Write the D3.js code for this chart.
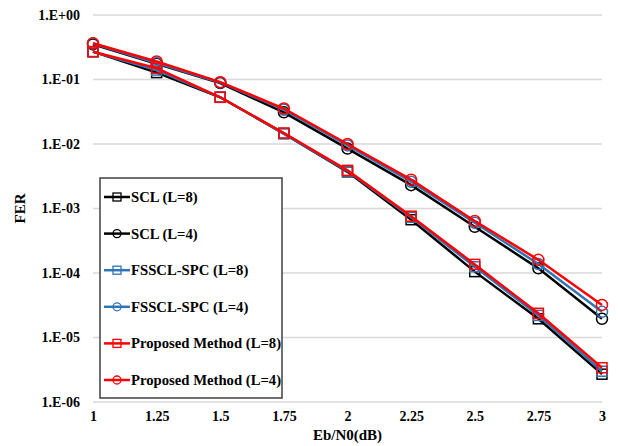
<!DOCTYPE html>
<html>
<head>
<meta charset="utf-8">
<script src="https://cdn.jsdelivr.net/npm/d3@7"></script>
<style>
  body { margin: 0; background: #fff; }
  text { font-family: "Liberation Serif", "Times New Roman", serif; font-weight: bold; }
</style>
</head>
<body>
<svg id="chart" width="618" height="446"></svg>
<script>
// x values (Eb/N0 in dB)
const ebn0 = [1, 1.25, 1.5, 1.75, 2, 2.25, 2.5, 2.75, 3];
const xTickLabels = ["1", "1.25", "1.5", "1.75", "2", "2.25", "2.5", "2.75", "3"];
const yTicks = [1, 1e-1, 1e-2, 1e-3, 1e-4, 1e-5, 1e-6];
const yTickLabels = ["1.E+00", "1.E-01", "1.E-02", "1.E-03", "1.E-04", "1.E-05", "1.E-06"];

// FER
const scl8    = [0.27, 0.128, 0.053, 0.0145, 0.0037, 6.7e-4, 1.05e-4, 1.95e-5, 2.7e-6];
const scl4    = [0.35, 0.175, 0.088, 0.031, 0.0085, 0.0023, 5.2e-4, 1.18e-4, 1.95e-5];
const fsscl8  = [0.27, 0.14, 0.053, 0.0145, 0.0038, 7.3e-4, 1.25e-4, 2.2e-5, 3.0e-6];
const fsscl4  = [0.36, 0.18, 0.09, 0.034, 0.0095, 0.0026, 6.0e-4, 1.38e-4, 2.5e-5];
const prop8   = [0.27, 0.15, 0.053, 0.0148, 0.0039, 7.6e-4, 1.36e-4, 2.37e-5, 3.4e-6];
const prop4   = [0.365, 0.19, 0.091, 0.0355, 0.0100, 0.0028, 6.4e-4, 1.6e-4, 3.2e-5];

const seriesNames = ["SCL (L=8)", "SCL (L=4)", "FSSCL-SPC (L=8)", "FSSCL-SPC (L=4)",
                     "Proposed Method (L=8)", "Proposed Method (L=4)"];
const seriesValues = [scl8, scl4, fsscl8, fsscl4, prop8, prop4];
const seriesColors = ["#000000", "#000000", "#2e75b6", "#2e75b6", "#ff0000", "#ff0000"];
const seriesMarkers = ["square", "circle", "square", "circle", "square", "circle"];

const svg = d3.select("#chart");
const plotLeft = 93, plotRight = 602, plotTop = 15, plotBottom = 402;

const x = d3.scaleLinear().domain([1, 3]).range([plotLeft, plotRight]);
const y = d3.scaleLog().domain([1e-6, 1]).range([plotBottom, plotTop]);

// gridlines
svg.append("g")
  .selectAll("line")
  .data(yTicks)
  .enter().append("line")
  .attr("x1", plotLeft).attr("x2", plotRight)
  .attr("y1", d => y(d)).attr("y2", d => y(d))
  .attr("stroke", "#d9d9d9")
  .attr("stroke-width", 1.5);

// y axis labels
const yAxis = d3.axisLeft(y).tickValues(yTicks)
  .tickFormat((d, i) => yTickLabels[i]).tickSize(0).tickPadding(13);
svg.append("g").attr("transform", `translate(${plotLeft},0)`).call(yAxis)
  .call(g => g.select(".domain").remove())
  .selectAll("text").attr("font-size", 14).attr("fill", "#000")
  .style("font-family", "'Liberation Serif', serif");

// x axis labels
const xAxis = d3.axisBottom(x).tickValues(ebn0)
  .tickFormat((d, i) => xTickLabels[i]).tickSize(0).tickPadding(9);
svg.append("g").attr("transform", `translate(0,${plotBottom})`).call(xAxis)
  .call(g => g.select(".domain").remove())
  .selectAll("text").attr("font-size", 14).attr("fill", "#000")
  .style("font-family", "'Liberation Serif', serif");

// axis titles
svg.append("text")
  .attr("x", (plotLeft + plotRight) / 2).attr("y", 440)
  .attr("text-anchor", "middle").attr("font-size", 15)
  .text("Eb/N0(dB)");
svg.append("text")
  .attr("transform", `translate(25,${(plotTop + plotBottom) / 2}) rotate(-90)`)
  .attr("text-anchor", "middle").attr("font-size", 15)
  .text("FER");

// marker drawing
function drawMarker(g, type, cx, cy, color) {
  if (type === "square") {
    g.append("rect")
      .attr("x", cx - 5).attr("y", cy - 5)
      .attr("width", 10).attr("height", 10)
      .attr("fill", "none").attr("stroke", color).attr("stroke-width", 1.5);
  } else {
    g.append("circle")
      .attr("cx", cx).attr("cy", cy).attr("r", 5.5)
      .attr("fill", "none").attr("stroke", color).attr("stroke-width", 1.5);
  }
}

const line = d3.line().x((d, i) => x(ebn0[i])).y(d => y(d));

seriesValues.forEach((vals, s) => {
  const g = svg.append("g");
  g.append("path")
    .attr("d", line(vals))
    .attr("fill", "none")
    .attr("stroke", seriesColors[s])
    .attr("stroke-width", 2.5);
  vals.forEach((v, i) => drawMarker(g, seriesMarkers[s], x(ebn0[i]), y(v), seriesColors[s]));
});

// legend
const legend = svg.append("g");
legend.append("rect")
  .attr("x", 100).attr("y", 178)
  .attr("width", 182).attr("height", 220)
  .attr("fill", "#fff").attr("stroke", "#404040").attr("stroke-width", 1.5);

seriesNames.forEach((name, s) => {
  const ly = 197 + s * 36.6;
  legend.append("line")
    .attr("x1", 104).attr("x2", 130)
    .attr("y1", ly).attr("y2", ly)
    .attr("stroke", seriesColors[s]).attr("stroke-width", 2.5);
  if (seriesMarkers[s] === "square") {
    legend.append("rect")
      .attr("x", 113).attr("y", ly - 4).attr("width", 8).attr("height", 8)
      .attr("fill", "none").attr("stroke", seriesColors[s]).attr("stroke-width", 1.3);
  } else {
    legend.append("circle")
      .attr("cx", 117).attr("cy", ly).attr("r", 4)
      .attr("fill", "none").attr("stroke", seriesColors[s]).attr("stroke-width", 1.3);
  }
  legend.append("text")
    .attr("x", 131).attr("y", ly + 5)
    .attr("font-size", 14.7)
    .text(name);
});
</script>
</body>
</html>
